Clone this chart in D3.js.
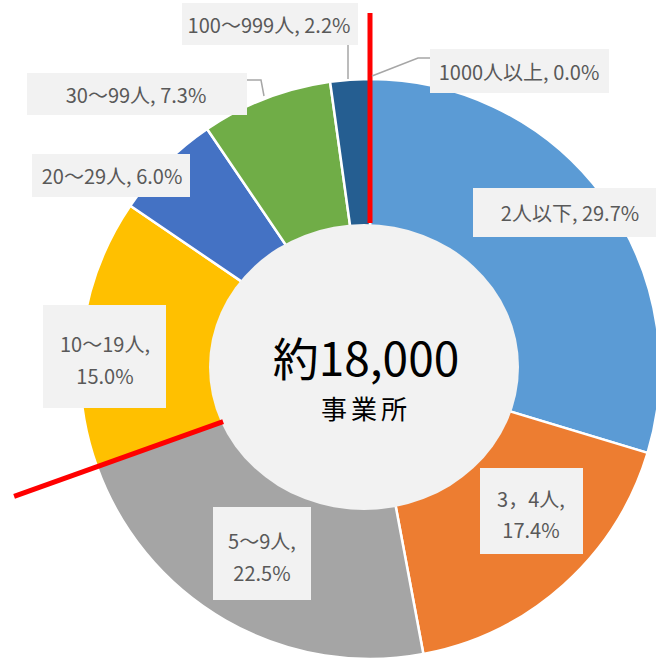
<!DOCTYPE html>
<html>
<head>
<meta charset="utf-8">
<script src="https://cdn.jsdelivr.net/npm/d3@7"></script>
<style>
  html, body { margin: 0; padding: 0; background: #ffffff; }
  svg { display: block; }
</style>
</head>
<body>
<script>
// ---- data ----
const categories = ["1000人以上", "2人以下", "3，4人", "5～9人", "10～19人", "20～29人", "30～99人", "100～999人"];
const shares = [0.0, 29.7, 17.4, 22.5, 15.0, 6.0, 7.3, 2.2];
const colors = ["#9E480E", "#5B9BD5", "#ED7D31", "#A5A5A5", "#FFC000", "#4472C4", "#70AD47", "#255E91"];
const twoLine = [false, false, true, true, true, false, false, false];
const centerTitle = "約18,000";
const centerSub = "事業所";
// boundaries marked with red lines (index of slice whose start angle is marked)
const markedStarts = [1, 4];

// ---- layout ----
const W = 656, H = 661;
const cx = 370, cy = 369, R = 290;
const labelBoxes = [
  {x: 430, y: 49, w: 179, h: 44, tx: 519, ty: [80], leader: [[372, 76], [418, 58], [430, 58]]},
  {x: 473, y: 188, w: 190, h: 49, tx: 570, ty: [221]},
  {x: 480, y: 468, w: 103, h: 86, tx: 531, ty: [507, 538]},
  {x: 213, y: 507, w: 98, h: 93, tx: 262, ty: [549, 581]},
  {x: 43, y: 305, w: 123, h: 103, tx: 105, ty: [352, 384]},
  {x: 32, y: 154, w: 158, h: 43, tx: 112, ty: [184]},
  {x: 27, y: 73, w: 220, h: 42, tx: 136, ty: [103], leader: [[247, 80], [261, 80], [264, 96]]},
  {x: 182, y: 3, w: 176, h: 42, tx: 269, ty: [33], leader: [[348, 45], [348, 79]]}
];
const redLineRadii = [[146, 356], [156, 378]];

const svg = d3.select("body").append("svg").attr("width", W).attr("height", H);

const pie = d3.pie().sort(null).value(d => d).startAngle(0).endAngle(2 * Math.PI);
const arcs = pie(shares);
const arcGen = d3.arc().innerRadius(0).outerRadius(R);

const g = svg.append("g").attr("transform", `translate(${cx},${cy})`);
g.selectAll("path.slice")
  .data(arcs)
  .join("path")
  .attr("class", "slice")
  .attr("d", arcGen)
  .attr("fill", (d, i) => colors[i])
  .attr("stroke", "#ffffff")
  .attr("stroke-width", 2.5)
  .attr("stroke-linejoin", "round");

// center disc
svg.append("ellipse")
  .attr("cx", 364).attr("cy", 367).attr("rx", 155).attr("ry", 143)
  .attr("fill", "#F2F2F2");

svg.append("text")
  .attr("x", 366).attr("y", 376)
  .attr("text-anchor", "middle")
  .attr("font-family", "'Noto Sans CJK JP', 'Noto Sans', sans-serif")
  .attr("font-size", 46)
  .attr("fill", "#000")
  .text(centerTitle);
svg.append("text")
  .attr("x", 366).attr("y", 419)
  .attr("text-anchor", "middle")
  .attr("font-family", "'Noto Sans CJK JP', sans-serif")
  .attr("font-size", 26)
  .attr("letter-spacing", 4)
  .attr("fill", "#000")
  .text(centerSub);

// red marker lines along slice boundaries
markedStarts.forEach((idx, k) => {
  const a = arcs[idx].startAngle;
  const [r1, r2] = redLineRadii[k];
  svg.append("line")
    .attr("x1", cx + r1 * Math.sin(a)).attr("y1", cy - r1 * Math.cos(a))
    .attr("x2", cx + r2 * Math.sin(a)).attr("y2", cy - r2 * Math.cos(a))
    .attr("stroke", "#FF0000")
    .attr("stroke-width", 5);
});

// leader lines
labelBoxes.forEach(b => {
  if (b.leader) {
    svg.append("polyline")
      .attr("points", b.leader.map(p => p.join(",")).join(" "))
      .attr("fill", "none")
      .attr("stroke", "#A6A6A6")
      .attr("stroke-width", 1.5);
  }
});

// labels
const lab = svg.append("g");
categories.forEach((c, i) => {
  const b = labelBoxes[i];
  lab.append("rect")
    .attr("x", b.x).attr("y", b.y).attr("width", b.w).attr("height", b.h)
    .attr("fill", "#F2F2F2");
  const pct = shares[i].toFixed(1) + "%";
  const lines = twoLine[i] ? [c + ",", pct] : [c + ", " + pct];
  lines.forEach((t, j) => {
    lab.append("text")
      .attr("x", b.tx).attr("y", b.ty[j])
      .attr("text-anchor", "middle")
      .attr("font-family", "'Noto Sans CJK JP', sans-serif")
      .attr("font-size", 20)
      .attr("fill", "#595959")
      .text(t);
  });
});
</script>
</body>
</html>
